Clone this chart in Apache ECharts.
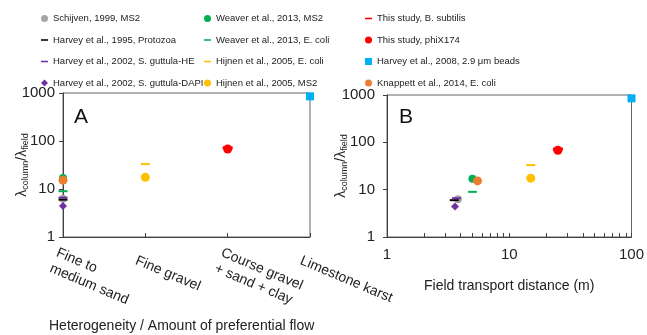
<!DOCTYPE html>
<html><head><meta charset="utf-8">
<script src="https://cdn.jsdelivr.net/npm/echarts@6/dist/echarts.min.js"></script>
<style>html,body{margin:0;padding:0;background:#fff}#c{width:647px;height:335px}</style>
</head><body><div id="c"></div>
<script>
// ---- data ----
const categories = ['Fine to\nmedium sand', 'Fine gravel', 'Course gravel\n+ sand + clay', 'Limestone karst'];
const seriesNames = [
  'Schijven, 1999, MS2',
  'Harvey et al., 1995, Protozoa',
  'Harvey et al., 2002, S. guttula-HE',
  'Harvey et al., 2002, S. guttula-DAPI',
  'Weaver et al., 2013, MS2',
  'Weaver et al., 2013, E. coli',
  'Hijnen et al., 2005, E. coli',
  'Hijnen et al., 2005, MS2',
  'This study, B. subtilis',
  'This study, phiX174',
  'Harvey et al., 2008, 2.9 μm beads',
  'Knappett et al., 2014, E. coli'
];
const heterogeneityIndex = [0, 0, 0, 0, 0, 0, 1, 1, 2, 2, 3, 0];
const lambdaRatio = [6.3, 6.0, 6.6, 4.4, 17, 9.0, 33, 17.5, 72, 68, 850, 15.3];
const transportDistance = [3.8, 3.55, 3.7, 3.6, 5.0, 5.0, 15, 15, 25, 25, 100, 5.5];
const yTicks = [1, 10, 100, 1000];
const xTicksB = [1, 10, 100];

// ---- styles ----
const colors = ['#a6a6a6', '#000000', '#7030a0', '#7030a0', '#00b050', '#00b050', '#ffc000', '#ffc000', '#ff0000', '#ff0000', '#00b0f0', '#ed7d31'];
const DASH = 'path://M0,0h9v2h-9z';
const symbols = ['circle', DASH, DASH, 'diamond', 'circle', DASH, DASH, 'circle', DASH, 'circle', 'rect', 'circle'];
const sizes = [8, [9, 2], [9, 2], 8, 8, [9, 2], [9, 2], 9, [10, 3], 9, 8, 9];
const legendIcons = ['circle', DASH, DASH, 'diamond', 'circle', DASH, DASH, 'circle', DASH, 'circle', 'rect', 'circle'];

const FONT = "'Liberation Sans', Arial, sans-serif";
const AX = '#404040';

const series = [];
seriesNames.forEach((n, i) => {
  series.push({
    name: n, type: 'scatter', xAxisIndex: 0, yAxisIndex: 0,
    data: [[heterogeneityIndex[i], lambdaRatio[i]]],
    symbol: symbols[i], symbolSize: sizes[i], clip: false,
    itemStyle: { color: colors[i], opacity: 1 }
  });
  series.push({
    name: n, type: 'scatter', xAxisIndex: 1, yAxisIndex: 1,
    data: [[transportDistance[i], lambdaRatio[i]]],
    symbol: symbols[i], symbolSize: sizes[i], clip: false,
    itemStyle: { color: colors[i], opacity: 1 }
  });
});

function legendCol(left, idx) {
  return {
    orient: 'vertical', left: left, top: 13.5, itemGap: 11.5, itemWidth: 7, itemHeight: 7,
    selectedMode: false, padding: 0,
    textStyle: { fontFamily: FONT, fontSize: 9.5, color: '#222' },
    data: idx.map(i => ({ name: seriesNames[i], icon: legendIcons[i], itemStyle: { color: colors[i] } }))
  };
}

const yName = '{a|λ}{s|column}{a|/λ}{s|field}';
const yNameStyle = {
  fontFamily: FONT, color: '#222',
  rich: {
    a: { fontSize: 14, fontFamily: FONT, color: '#222' },
    s: { fontSize: 9, fontFamily: FONT, color: '#222', padding: [6, 0, 0, 0] }
  }
};

function yAxis(gi, margin, gap) {
  return {
    type: 'log', logBase: 10, min: 1, max: 1000, gridIndex: gi,
    name: yName, nameLocation: 'middle', nameRotate: 90, nameGap: gap, nameMoveOverlap: false,
    nameTextStyle: yNameStyle,
    axisLine: { show: true, lineStyle: { color: AX } },
    axisTick: { show: true, inside: false, length: 4, lineStyle: { color: AX } },
    axisLabel: { fontFamily: FONT, fontSize: 15, color: '#222', margin: margin,
      customValues: yTicks, formatter: v => String(v) },
    splitLine: { show: false }
  };
}

const option = {
  animation: false,
  backgroundColor: '#fff',
  title: [
    { text: 'A', left: 69, top: 102, textStyle: { fontFamily: FONT, fontSize: 21, fontWeight: 'normal', color: '#111' } },
    { text: 'B', left: 394, top: 102, textStyle: { fontFamily: FONT, fontSize: 21, fontWeight: 'normal', color: '#111' } },
    { text: 'Heterogeneity / Amount of preferential flow', left: 44, top: 314, textStyle: { fontFamily: FONT, fontSize: 14, fontWeight: 'normal', color: '#222' } }
  ],
  legend: [
    legendCol(41, [0, 1, 2, 3]),
    legendCol(204, [4, 5, 6, 7]),
    legendCol(365, [8, 9, 10, 11])
  ],
  grid: [
    { left: 63, right: 337, top: 93, bottom: 98, show: true, borderColor: '#666', borderWidth: 1 },
    { left: 387, right: 13, top: 95, bottom: 98, show: true, borderColor: '#666', borderWidth: 1 }
  ],
  xAxis: [
    {
      type: 'category', gridIndex: 0, data: categories, boundaryGap: false,
      axisLine: { show: true, lineStyle: { color: AX } },
      axisTick: { show: true, inside: true, length: 4, alignWithLabel: true, lineStyle: { color: AX } },
      axisLabel: { interval: 0, rotate: -23, fontFamily: FONT, fontSize: 14, color: '#222', margin: 27, lineHeight: 17,
        padding: [0, 0, 0, -10] },
      splitLine: { show: false }
    },
    {
      type: 'log', logBase: 10, min: 1, max: 100, gridIndex: 1,
      name: 'Field transport distance (m)', nameLocation: 'middle', nameGap: 42, nameMoveOverlap: false,
      nameTextStyle: { fontFamily: FONT, fontSize: 14, color: '#222' },
      axisLine: { show: true, lineStyle: { color: AX } },
      axisTick: { show: true, inside: true, length: 4, lineStyle: { color: AX },
        customValues: [1, 2, 3, 4, 5, 6, 7, 8, 9, 10, 20, 30, 40, 50, 60, 70, 80, 90, 100] },
      axisLabel: { fontFamily: FONT, fontSize: 15, color: '#222', margin: 10, customValues: xTicksB, formatter: v => String(v) },
      splitLine: { show: false }
    }
  ],
  yAxis: [yAxis(0, 8, 33), yAxis(1, 12, 38)],
  series: series
};

const chart = echarts.init(document.getElementById('c'), null, { renderer: 'canvas' });
chart.setOption(option);
</script>
</body></html>
